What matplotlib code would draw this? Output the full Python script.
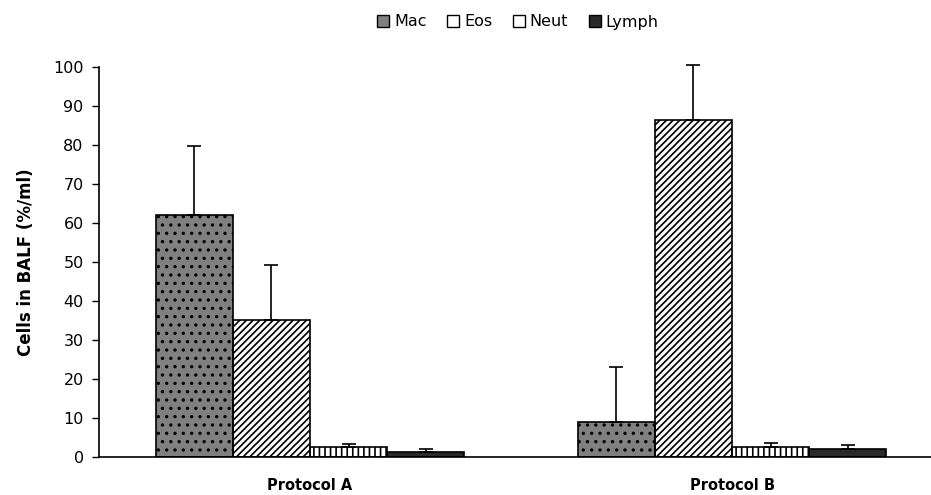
import matplotlib
matplotlib.use("Agg")
import matplotlib.pyplot as plt
from matplotlib.patches import Rectangle
import numpy as np

plt.rcParams['font.family'] = ['DejaVu Sans']
plt.rcParams['hatch.linewidth'] = 1.2

categories = ["Protocol A", "Protocol B"]
series = ["Mac", "Eos", "Neut", "Lymph"]
mac = [62.0, 9.0]
eos = [35.1, 86.3]
neut = [2.5, 2.6]
lymph = [1.2, 2.1]
mac_err = [17.7, 14.1]
eos_err = [14.2, 14.3]
neut_err = [0.9, 0.9]
lymph_err = [0.8, 0.9]

values = [mac, eos, neut, lymph]
errors = [mac_err, eos_err, neut_err, lymph_err]
faces = ['#808080', 'white', 'white', '#2a2a2a']
hatches = ['..', '/////', '|||', '-']
hatch_cols = ['black', 'black', 'black', '#e0e0e0']

fig = plt.figure(figsize=(9.31, 4.95), dpi=100)
ax = fig.add_axes([99/931, 38/495, 844/931, 390/495])

x = np.arange(len(categories))
w = 0.183
offsets = (np.arange(4) - 1.5) * w
handles = []
for i, s in enumerate(series):
    pos = x + offsets[i]
    ax.bar(pos, values[i], w, color=faces[i], edgecolor='none', zorder=2)
    ax.bar(pos, values[i], w, fill=False, edgecolor=hatch_cols[i], hatch=hatches[i], linewidth=0, zorder=3)
    ax.bar(pos, values[i], w, fill=False, edgecolor='black', linewidth=1.2, zorder=4)
    eb = ax.errorbar(pos, values[i], yerr=[np.zeros(len(pos)), errors[i]], fmt='none',
                     ecolor='black', elinewidth=1.2, capsize=5, capthick=1.2, zorder=5)
    for art in list(eb.lines[1]) + list(eb.lines[2]):
        art.set_clip_on(False)
    handles.append(Rectangle((0, 0), 1, 1, facecolor=faces[i], edgecolor='black', linewidth=1))

ax.set_xlim(-0.5, 1.5)
ax.set_ylim(0, 100)
ax.set_yticks(np.arange(0, 101, 10))
ax.tick_params(axis='y', labelsize=11.5, length=5, width=1, direction='out', pad=6)
ax.set_xticks(x)
ax.set_xticklabels(categories, fontsize=10.5, fontweight='bold')
ax.tick_params(axis='x', length=0, pad=15)
for sp in ['top', 'right']:
    ax.spines[sp].set_visible(False)
ax.spines['left'].set_linewidth(1.2)
ax.spines['bottom'].set_linewidth(1.2)
ax.set_ylabel('Cells in BALF (%/ml)', fontsize=12, fontweight='bold', labelpad=13)

fig.legend(handles, series, loc='center', bbox_to_anchor=(518/931, 1 - 22/495), ncol=4,
           frameon=False, fontsize=11.5, handlelength=0.75, handleheight=0.75,
           handletextpad=0.3, columnspacing=1.3)

fig.savefig('out.png', dpi=100)
